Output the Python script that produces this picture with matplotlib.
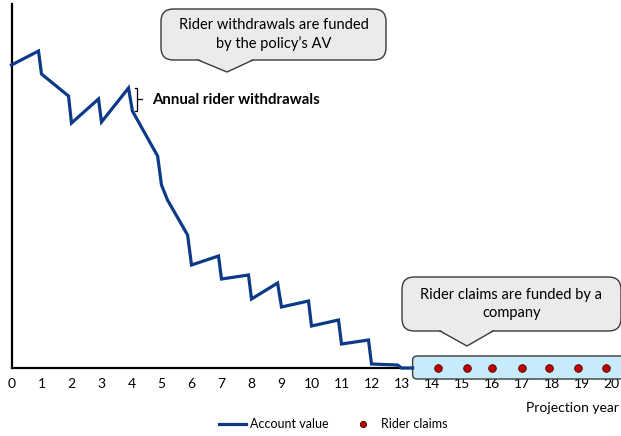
import numpy as np
import matplotlib.pyplot as plt
from matplotlib.patches import FancyBboxPatch, Polygon
from matplotlib.lines import Line2D

plt.rcParams['font.family'] = ['Lato', 'DejaVu Sans']

# account value path (withdrawal taken at each year end)
av_years = [0, 0.9, 1.0, 1.9, 2.0, 2.9, 3.0, 3.9, 4.03, 4.87, 5.0, 5.2, 5.87, 6.0, 6.9, 7.0,
            7.9, 8.0, 8.87, 9.0, 9.9, 10.0, 10.9, 11.0, 11.9, 12.0, 12.87, 13.0, 13.37]
av_values = [303, 317, 294, 272, 245, 269, 246, 280, 257, 212, 183, 168, 133, 103, 112, 89,
             93, 69, 85, 61, 67, 42, 48, 24, 28, 4, 3, 0, 0]

# rider claims once the AV is exhausted
claim_years = [14.2, 15.17, 16.03, 17.0, 17.93, 18.87, 19.8]
claim_values = [0, 0, 0, 0, 0, 0, 0]

year_ticks = list(range(0, 21))

W, H = 621, 436
fig = plt.figure(figsize=(6.21, 4.36), dpi=100)
ax = fig.add_axes([11.5 / W, (H - 368) / H, (W - 11.5) / W, 364 / H])

navy = '#0d3a86'

# claims band
ax.add_patch(FancyBboxPatch((13.37, -11), 8, 23, boxstyle='round,pad=0,rounding_size=0.15',
                            fc='#c8ebfb', ec='#3a3a3a', lw=1.0, clip_on=False, zorder=2,
                            mutation_aspect=30))
ax.plot(av_years, av_values, color=navy, lw=2.3, solid_joinstyle='miter', clip_on=False, zorder=3)
ax.plot(claim_years, claim_values, 'o', color='#c00000', mec='#4a0000', mew=0.6, ms=5.5,
        clip_on=False, zorder=4)

ax.set_xlim(0, (W - 11.5) / 30)
ax.set_ylim(0, 364)
ax.set_xticks(year_ticks)
ax.set_xticklabels([str(t) for t in year_ticks], fontsize=10)
ax.set_yticks([])
ax.tick_params(axis='x', length=0, pad=7)
for s in ['top', 'right']:
    ax.spines[s].set_visible(False)
for s in ['left', 'bottom']:
    ax.spines[s].set_linewidth(1.6)
    ax.spines[s].set_zorder(1)

fig.text(619 / W, 1 - 408 / H, 'Projection year', fontsize=10, va='center', ha='right')

# brace for annual withdrawal
bx = 4.1
y_top, y_bot = av_values[7], av_values[8]
ym = (y_top + y_bot) / 2
ax.plot([bx, bx + 0.08, bx + 0.08, bx + 0.25], [y_top, y_top, ym, ym], color='black', lw=0.9,
        clip_on=False)
ax.plot([bx, bx + 0.08, bx + 0.08], [y_bot, y_bot, ym], color='black', lw=0.9, clip_on=False)
ax.text(4.7, ym, 'Annual rider withdrawals', fontsize=10.8, fontweight='bold', va='center')


def callout(x0, y0, x1, y1, bl, br, tip, lines):
    # pixel coords from top-left
    fx = lambda x: x / W
    fy = lambda y: 1 - y / H
    box = FancyBboxPatch((fx(x0), fy(y1)), fx(x1) - fx(x0), fy(y0) - fy(y1),
                         boxstyle='round,pad=0,rounding_size=0.02', transform=fig.transFigure,
                         fc='#ebebeb', ec='#3a3a3a', lw=1.0, mutation_aspect=W / H)
    fig.add_artist(box)
    tri = Polygon([(fx(bl), fy(y1 - 1)), (fx(tip[0]), fy(tip[1])), (fx(br), fy(y1 - 1))],
                  closed=True, transform=fig.transFigure, fc='#ebebeb', ec='none')
    fig.add_artist(tri)
    fig.add_artist(Line2D([fx(bl), fx(tip[0]), fx(br)], [fy(y1), fy(tip[1]), fy(y1)],
                          transform=fig.transFigure, color='#3a3a3a', lw=1.0))
    fig.text(fx((x0 + x1) / 2), fy((y0 + y1) / 2), lines, transform=fig.transFigure,
             ha='center', va='center', fontsize=10.5, linespacing=1.35)


callout(161, 9, 386, 60, 198, 253, (227, 72), 'Rider withdrawals are funded\nby the policy\u2019s AV')
callout(402, 277, 621, 331, 440, 493, (467, 346), 'Rider claims are funded by a\ncompany')

handles = [Line2D([], [], color=navy, lw=2.3),
           Line2D([], [], ls='none', marker='o', color='#c00000', mec='#4a0000', mew=0.6, ms=4.5)]
fig.legend(handles, ['Account value', 'Rider claims'], loc='center', ncol=2,
           bbox_to_anchor=(333 / W, 1 - 424 / H), frameon=False, fontsize=9,
           handlelength=2.2, handletextpad=0.3, columnspacing=1.7)

plt.savefig('out.png', dpi=100)
